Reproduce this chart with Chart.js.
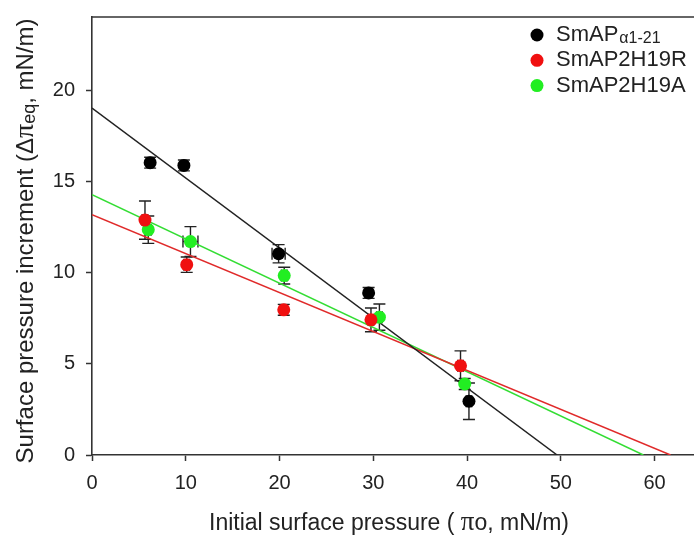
<!DOCTYPE html>
<html><head><meta charset="utf-8">
<script src="https://cdn.jsdelivr.net/npm/chart.js@4/dist/chart.umd.min.js"></script>
<style>html,body{margin:0;padding:0;background:#fff;} #wrap{width:694px;height:538px;position:relative;}</style>
</head><body><div id="wrap"><canvas id="c" width="694" height="538"></canvas></div>
<script>
// ---- data ----
const seriesNames = ['SmAP', 'SmAP2H19R', 'SmAP2H19A'];
const seriesSub = ['α1-21', '', ''];
const xTickValues = [0, 10, 20, 30, 40, 50, 60];
const yTickValues = [0, 5, 10, 15, 20];

const blackX    = [6.2, 9.8, 19.9, 29.5, 40.2];
const blackY    = [16.05, 15.9, 11.05, 8.9, 2.95];
const blackYErr = [0.3, 0.3, 0.5, 0.3, 1.0];
const blackXErr = [0.3, 0.3, 0.7, 0.3, 0.3];

const redX    = [5.65, 10.1, 20.45, 29.75, 39.3];
const redY    = [12.9, 10.45, 7.97, 7.42, 4.9];
const redYErr = [1.05, 0.42, 0.3, 0.65, 0.82];
const redXErr = [0.3, 0.3, 0.3, 0.3, 0.3];

const greenX    = [6.0, 10.5, 20.5, 30.65, 39.75];
const greenY    = [12.37, 11.72, 9.85, 7.57, 3.9];
const greenYErr = [0.75, 0.82, 0.46, 0.72, 0.3];
const greenXErr = [0.3, 0.8, 0.3, 0.3, 0.3];

// regression lines (intercept points)
const blackFitX = [0, 49.6],  blackFitY = [19.05, 0];
const redFitX   = [0, 61.7],  redFitY   = [13.2, 0];
const greenFitX = [0, 58.8],  greenFitY = [14.3, 0];

const colors = ['#000000', '#f01010', '#22ee22'];
const lineColors = ['#222222', '#e02a2a', '#33dd33'];

const pts = (xs, ys) => xs.map((x, i) => ({x, y: ys[i]}));
const FONT = "'Liberation Sans', Arial, sans-serif";

const errorBars = {
  id: 'errorBars',
  beforeDatasetsDraw(chart) {
    const {ctx, scales: {x, y}} = chart;
    ctx.save();
    ctx.strokeStyle = '#222';
    ctx.lineWidth = 1.4;
    chart.data.datasets.forEach(ds => {
      if (!ds.errY) return;
      ds.data.forEach((p, i) => {
        const px = x.getPixelForValue(p.x), py = y.getPixelForValue(p.y);
        const ey = ds.errY[i], ex = ds.errX[i];
        const yt = y.getPixelForValue(p.y + ey), yb = y.getPixelForValue(p.y - ey);
        const xl = x.getPixelForValue(p.x - ex), xr = x.getPixelForValue(p.x + ex);
        ctx.beginPath();
        ctx.moveTo(px, yt); ctx.lineTo(px, yb);
        ctx.moveTo(px - 6, yt); ctx.lineTo(px + 6, yt);
        ctx.moveTo(px - 6, yb); ctx.lineTo(px + 6, yb);
        ctx.moveTo(xl, py); ctx.lineTo(xr, py);
        ctx.moveTo(xl, py - 6); ctx.lineTo(xl, py + 6);
        ctx.moveTo(xr, py - 6); ctx.lineTo(xr, py + 6);
        ctx.stroke();
      });
    });
    ctx.restore();
  }
};

const decor = {
  id: 'decor',
  afterDraw(chart) {
    const {ctx, chartArea} = chart;
    ctx.save();
    // top frame line
    ctx.strokeStyle = '#333';
    ctx.lineWidth = 1.6;
    ctx.beginPath();
    ctx.moveTo(chartArea.left, chartArea.top);
    ctx.lineTo(chart.width, chartArea.top);
    ctx.stroke();

    // legend
    const lx = 537, ly0 = 35, dy = 25.3;
    seriesNames.forEach((name, i) => {
      const yy = ly0 + i * dy;
      ctx.fillStyle = colors[i];
      ctx.beginPath(); ctx.arc(lx, yy, 6.5, 0, Math.PI * 2); ctx.fill();
      ctx.fillStyle = '#222';
      ctx.textBaseline = 'middle';
      ctx.textAlign = 'left';
      ctx.font = '22px ' + FONT;
      ctx.fillText(name, 556, yy);
      if (seriesSub[i]) {
        const w = ctx.measureText(name).width;
        ctx.font = '16px ' + FONT;
        ctx.fillText(seriesSub[i], 556 + w + 1, yy + 4);
      }
    });

    // x axis title
    ctx.fillStyle = '#222';
    ctx.textBaseline = 'alphabetic';
    ctx.textAlign = 'left';
    const xs = [['Initial surface pressure ( ', '23px ' + FONT], ['π', '27px "Liberation Serif", serif'], ['o, mN/m)', '23px ' + FONT]];
    let total = 0;
    xs.forEach(s => { ctx.font = s[1]; total += ctx.measureText(s[0]).width; });
    let cx = 389 - total / 2;
    xs.forEach(s => { ctx.font = s[1]; ctx.fillText(s[0], cx, 530); cx += ctx.measureText(s[0]).width; });

    // y axis title (rotated)
    ctx.translate(33, 241);
    ctx.rotate(-Math.PI / 2);
    const ys = [['Surface pressure increment (Δ', '24px ' + FONT, 0], ['π', '28px "Liberation Serif", serif', 0], ['eq', '18px ' + FONT, 2], [', mN/m)', '24px ' + FONT, 0]];
    total = 0;
    ys.forEach(s => { ctx.font = s[1]; total += ctx.measureText(s[0]).width; });
    cx = -total / 2;
    ys.forEach(s => { ctx.font = s[1]; ctx.fillText(s[0], cx, s[2]); cx += ctx.measureText(s[0]).width; });
    ctx.restore();
  }
};

new Chart(document.getElementById('c'), {
  type: 'scatter',
  data: {
    datasets: [
      {label: seriesNames[0] + seriesSub[0], data: pts(blackX, blackY), errY: blackYErr, errX: blackXErr,
       backgroundColor: colors[0], borderColor: colors[0], pointRadius: 6.5, pointBorderWidth: 0},
      {label: seriesNames[1], data: pts(redX, redY), errY: redYErr, errX: redXErr,
       backgroundColor: colors[1], borderColor: colors[1], pointRadius: 6.5, pointBorderWidth: 0},
      {label: seriesNames[2], data: pts(greenX, greenY), errY: greenYErr, errX: greenXErr,
       backgroundColor: colors[2], borderColor: colors[2], pointRadius: 6.5, pointBorderWidth: 0},
      {type: 'line', label: 'fit1', data: pts(blackFitX, blackFitY), borderColor: lineColors[0], borderWidth: 1.5, pointRadius: 0, fill: false},
      {type: 'line', label: 'fit2', data: pts(redFitX, redFitY), borderColor: lineColors[1], borderWidth: 1.5, pointRadius: 0, fill: false},
      {type: 'line', label: 'fit3', data: pts(greenFitX, greenFitY), borderColor: lineColors[2], borderWidth: 1.5, pointRadius: 0, fill: false}
    ]
  },
  options: {
    responsive: false,
    animation: false,
    layout: {autoPadding: false, padding: {top: 17, left: 0, right: 0, bottom: 0}},
    plugins: {legend: {display: false}, tooltip: {enabled: false}},
    scales: {
      x: {
        type: 'linear', min: 0, max: 64.2,
        afterBuildTicks: s => { s.ticks = xTickValues.map(v => ({value: v})); },
        afterFit: s => { s.height = 83; s.paddingLeft = 0; s.paddingRight = 0; },
        ticks: {font: {size: 20, family: FONT}, color: '#222', padding: 10, maxRotation: 0},
        grid: {drawOnChartArea: false, drawTicks: true, tickLength: 6, color: '#333', tickWidth: 1.5},
        border: {display: true, color: '#333', width: 1.6}
      },
      y: {
        type: 'linear', min: 0, max: 24.05,
        afterBuildTicks: s => { s.ticks = yTickValues.map(v => ({value: v})); },
        afterFit: s => { s.width = 92; s.paddingTop = 0; s.paddingBottom = 0; },
        ticks: {font: {size: 20, family: FONT}, color: '#222', padding: 11},
        grid: {drawOnChartArea: false, drawTicks: true, tickLength: 6, color: '#333', tickWidth: 1.5},
        border: {display: true, color: '#333', width: 1.6}
      }
    }
  },
  plugins: [errorBars, decor]
});
</script>
</body></html>
